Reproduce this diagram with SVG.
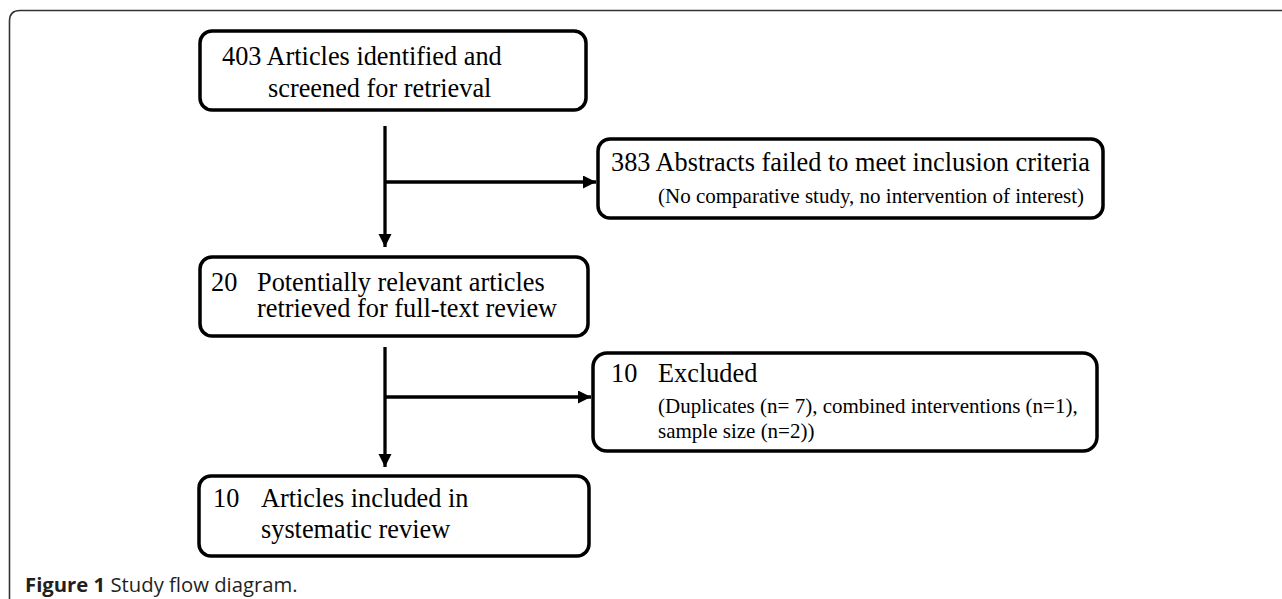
<svg xmlns="http://www.w3.org/2000/svg" width="1282" height="599" viewBox="0 0 1282 599">
<defs>
<style>
.box{fill:#fff;stroke:#000;stroke-width:3.5}
.t{font-family:"Liberation Serif","Times New Roman",serif;font-size:26.3px;fill:#000}
.s{font-family:"Liberation Serif","Times New Roman",serif;font-size:21px;fill:#000}
.conn{fill:none;stroke:#000;stroke-width:3.3}
.cap{font-family:"Open Sans","Noto Sans",sans-serif;font-size:20.3px;fill:#231f20}
</style>
<marker id="ah" markerUnits="userSpaceOnUse" markerWidth="14" markerHeight="14" refX="13" refY="6.5" orient="auto">
<path d="M0,0 L13,6.5 L0,13 Z" fill="#000"/>
</marker>
</defs>
<rect width="1282" height="599" fill="#fff"/>
<path d="M9.5,599 L9.5,21 Q9.5,10.5 20,10.5 L1282,10.5" fill="none" stroke="#333" stroke-width="1.6"/>
<g id="connectors">
<line class="conn" x1="385" y1="126" x2="385" y2="247" marker-end="url(#ah)"/>
<line class="conn" x1="385" y1="182" x2="596" y2="182" marker-end="url(#ah)"/>
<line class="conn" x1="385" y1="347" x2="385" y2="467" marker-end="url(#ah)"/>
<line class="conn" x1="385" y1="397" x2="591" y2="397" marker-end="url(#ah)"/>
</g>
<g id="n403">
<rect class="box" x="200" y="31" width="386" height="79" rx="12"/>
<text class="t" x="222" y="65">403 Articles identified and</text>
<text class="t" x="268" y="97">screened for retrieval</text>
</g>
<g id="n383">
<rect class="box" x="598" y="139" width="505" height="79" rx="12"/>
<text class="t" x="611" y="171">383 Abstracts failed to meet inclusion criteria</text>
<text class="s" x="658" y="203">(No comparative study, no intervention of interest)</text>
</g>
<g id="n20">
<rect class="box" x="200" y="257" width="388" height="79" rx="12"/>
<text class="t" x="211" y="291">20</text>
<text class="t" x="257" y="291">Potentially relevant articles</text>
<text class="t" x="257" y="317">retrieved for full-text review</text>
</g>
<g id="nexcl">
<rect class="box" x="593" y="353" width="504" height="98" rx="14"/>
<text class="t" x="611" y="382">10</text>
<text class="t" x="658" y="382">Excluded</text>
<text class="s" x="658" y="413">(Duplicates (n= 7), combined interventions (n=1),</text>
<text class="s" x="658" y="438">sample size (n=2))</text>
</g>
<g id="n10">
<rect class="box" x="199" y="476" width="390" height="80" rx="12"/>
<text class="t" x="213" y="507">10</text>
<text class="t" x="261" y="507">Articles included in</text>
<text class="t" x="261" y="538">systematic review</text>
</g>
<text class="cap" x="25" y="592"><tspan font-weight="bold">Figure 1</tspan> Study flow diagram.</text>
</svg>
